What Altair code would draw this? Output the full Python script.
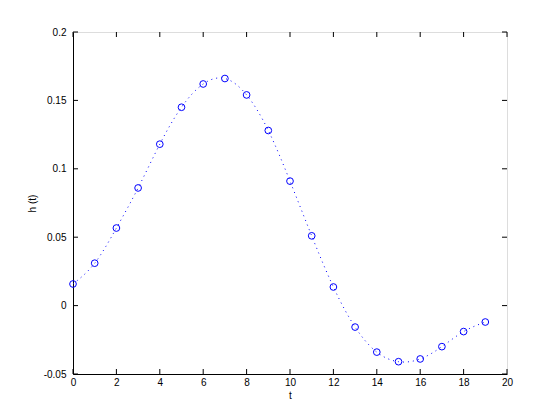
import altair as alt
import pandas as pd

t_vals = list(range(20))
h_vals = [0.0158, 0.031, 0.0567, 0.086, 0.118, 0.145, 0.162, 0.166, 0.154, 0.128,
          0.091, 0.051, 0.0136, -0.0157, -0.034, -0.041, -0.039, -0.030, -0.019, -0.012]
x_ticks = [0, 2, 4, 6, 8, 10, 12, 14, 16, 18, 20]
y_ticks = [-0.05, 0, 0.05, 0.1, 0.15, 0.2]

W, H = 434, 342
df = pd.DataFrame({"t": t_vals, "h": h_vals})
xt = pd.DataFrame({"v": x_ticks})
yt = pd.DataFrame({"v": y_ticks})

xs = alt.Scale(domain=[0, 20], nice=False, zero=False)
ys = alt.Scale(domain=[-0.05, 0.2], nice=False, zero=False)

FONT = "Liberation Sans"

xaxis = alt.Axis(values=x_ticks, ticks=False, grid=False, labelPadding=3, labelFontSize=10,
                 labelFont=FONT, labelColor="black", domainColor="black", titleFont=FONT,
                 titleFontSize=10, titleFontWeight="normal", titleColor="black", titlePadding=3,
                 labelFlush=False)
yaxis = alt.Axis(values=y_ticks, ticks=False, grid=False, labelPadding=7, labelFontSize=10,
                 labelFont=FONT, labelColor="black", domainColor="black", titleFont=FONT,
                 titleFontSize=10, titleFontWeight="normal", titleColor="black", titlePadding=6,
                 labelFlush=False,
                 labelExpr="datum.value < 0 ? '-' + format(-datum.value, '~g') : format(datum.value, '~g')")

line = alt.Chart(df).mark_line(color="#0000FF", strokeDash=[1, 4], strokeWidth=1,
                               interpolate="natural").encode(
    x=alt.X("t:Q", scale=xs, axis=xaxis, title="t"),
    y=alt.Y("h:Q", scale=ys, axis=yaxis, title="h (t)"),
)
pts = alt.Chart(df).mark_point(shape="circle", filled=False, color="#0000FF", size=45,
                               strokeWidth=1, opacity=1).encode(
    x=alt.X("t:Q", scale=xs),
    y=alt.Y("h:Q", scale=ys),
)

tk = 5
xb = alt.Chart(xt).mark_rule(color="black", strokeWidth=1).encode(
    x=alt.X("v:Q", scale=xs), y=alt.value(H), y2=alt.value(H - tk))
xtop = alt.Chart(xt).mark_rule(color="black", strokeWidth=1).encode(
    x=alt.X("v:Q", scale=xs), y=alt.value(0), y2=alt.value(tk))
yl = alt.Chart(yt).mark_rule(color="black", strokeWidth=1).encode(
    y=alt.Y("v:Q", scale=ys), x=alt.value(0), x2=alt.value(tk))
yr = alt.Chart(yt).mark_rule(color="black", strokeWidth=1).encode(
    y=alt.Y("v:Q", scale=ys), x=alt.value(W), x2=alt.value(W - tk))

chart = alt.layer(line, pts, xb, xtop, yl, yr).properties(
    width=W, height=H,
    autosize=alt.AutoSizeParams(type="none"),
    padding={"left": 65, "top": 24, "right": 30, "bottom": 30},
).configure_view(stroke="black", strokeWidth=1).configure(background="white")

chart.save("out.html", embed_options={"renderer": "svg", "actions": False})
